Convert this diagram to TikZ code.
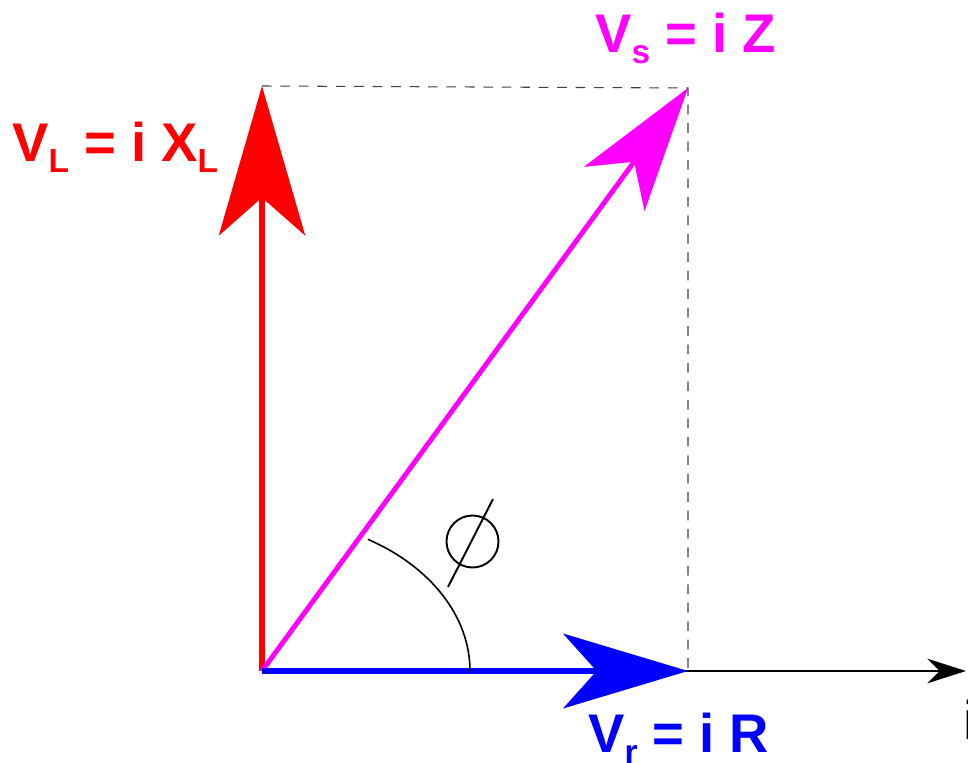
\documentclass[tikz,border=0pt]{standalone}
\usepackage{fontspec}
\setmainfont{Liberation Sans}
\usetikzlibrary{arrows.meta}

\definecolor{vsmag}{RGB}{255,0,255}
\newcommand{\lowsub}[1]{\raisebox{-5.7pt}{\fontsize{19}{19}\selectfont #1}}

\begin{document}
\begin{tikzpicture}[x=0.02cm, y=-0.02cm,
    phasor/.style={line width=3.2pt},
    bighead/.style={-{Stealth[length=85pt, width=49pt, inset=21.5pt]}},
    midhead/.style={-{Stealth[length=71pt, width=42.5pt, inset=19pt]}},
    guide/.style={black!75, line width=0.6pt, dash pattern=on 5.5pt off 5pt},
    lbl/.style={font=\fontsize{31}{37}\selectfont\bfseries, inner sep=0pt, anchor=base west}]
  \useasboundingbox (0,0) rectangle (968,763);

  % corners of the phasor triangle
  \coordinate (O) at (262,671);
  \coordinate (L) at (262,86);
  \coordinate (S) at (688,88);
  \coordinate (R) at (688,671);
  \coordinate (end) at (966,671);

  % reference axis and projections
  \draw[line width=1.1pt, -{Stealth[length=22pt, width=14pt, inset=7pt]}] (O) -- (end);
  \draw[guide] (L) -- (S) -- (R);

  % phasors
  \draw[phasor, red, bighead] (O) -- (L);
  \draw[phasor, line width=2.8pt, vsmag, midhead] (O) -- (S);
  \draw[phasor, blue, midhead] (O) -- (R);

  % angle phi
  \draw[line width=0.9pt] (470,671) arc[start angle=0, end angle=59.4, x radius=208, y radius=-153];
  \draw[line width=1.1pt] (472.5,541.5) circle[radius=26];
  \draw[line width=1.1pt] (493,499) -- (448,587);

  % labels
  \node[lbl, red] (vl) at (12,162) {V\lowsub{L} = i X\lowsub{L}};
  \node[lbl, vsmag] (vs) at (595,53) {V\lowsub{s} = i Z};
  \node[lbl, blue] (vr) at (588,753) {V\lowsub{r} = i R};
  \node[inner sep=0pt, anchor=base west, font=\fontsize{31}{37}\selectfont] (ilbl) at (963,740) {i};
\end{tikzpicture}
\end{document}
